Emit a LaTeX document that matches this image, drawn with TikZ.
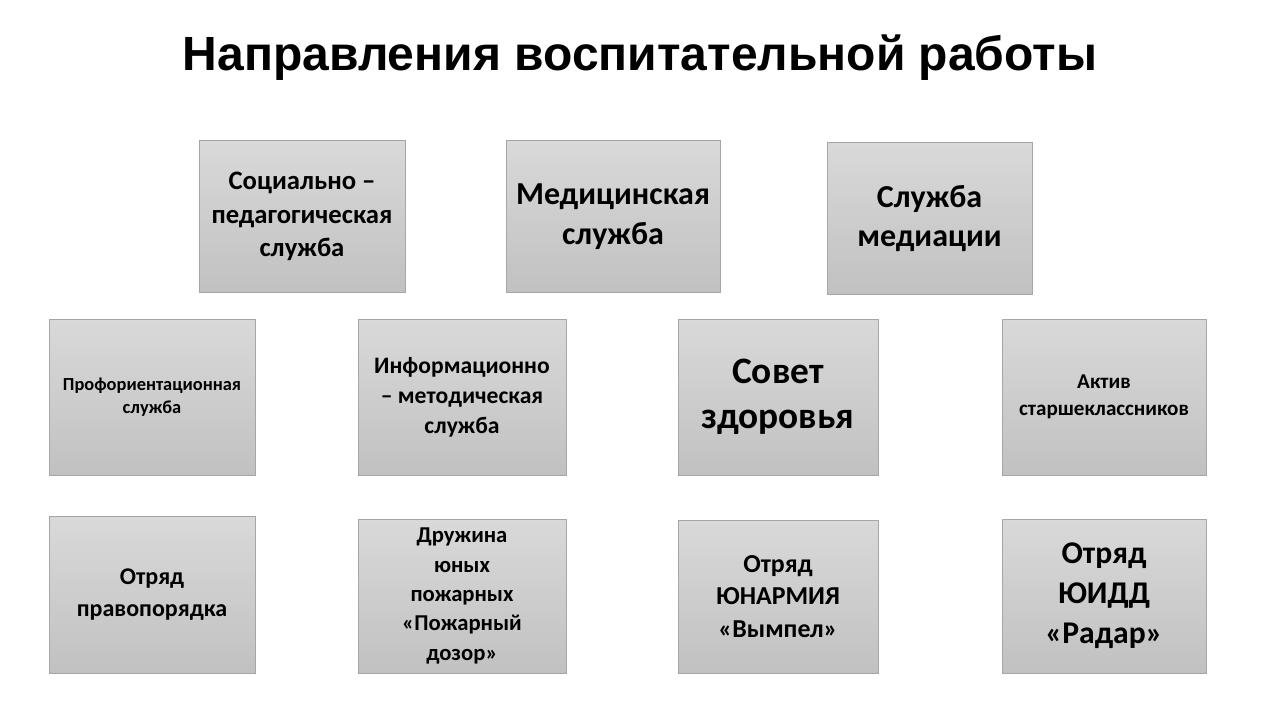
\documentclass[tikz,border=0pt]{standalone}
\usepackage{fontspec}
\setmainfont{Carlito}
\newfontfamily\titlefont{Liberation Sans}
\definecolor{boxtop}{RGB}{217,217,217}
\definecolor{boxbot}{RGB}{193,193,193}
\definecolor{boxline}{RGB}{166,166,166}
\tikzset{
  box/.style={draw=boxline, line width=0.75pt, top color=boxtop, bottom color=boxbot,
    align=center, inner sep=0pt, font=\bfseries},
}
\begin{document}
\begin{tikzpicture}[x=0.75pt, y=-0.75pt]
    \useasboundingbox[fill=white] (0,0) rectangle (1280,720); % page
    \node[font=\titlefont\bfseries\fontsize{36}{42}\selectfont] (title) at (640,58) {Направления воспитательной работы}; % title
    % first row
    \node[box, minimum width=154.5pt, minimum height=113.25pt, font=\bfseries\fontsize{20}{25}\selectfont] (social) at (302,216.5) {Социально –\\педагогическая\\служба};
    \node[box, minimum width=160.5pt, minimum height=113.25pt, font=\bfseries\fontsize{24}{29.5}\selectfont] (medic) at (613,216.5) {Медицинская\\служба};
    \node[box, minimum width=153.75pt, minimum height=113.25pt, font=\bfseries\fontsize{24}{29.5}\selectfont] (mediation) at (929.5,218.5) {Служба\\медиации};
    % second row
    \node[box, minimum width=154.5pt, minimum height=117pt, font=\bfseries\fontsize{13.8}{17.5}\selectfont] (career) at (152,397) {Профориентационная\\служба};
    \node[box, minimum width=156pt, minimum height=117pt, font=\bfseries\fontsize{17.7}{22.5}\selectfont] (inform) at (462,397) {Информационно\\– методическая\\служба};
    \node[box, minimum width=150pt, minimum height=117pt, font=\bfseries\fontsize{28}{33.5}\selectfont] (health) at (778,397) {Совет\\здоровья};
    \node[box, minimum width=153pt, minimum height=117pt, font=\bfseries\fontsize{15.8}{20.5}\selectfont] (activ) at (1104,397) {Актив\\старшеклассников};
    % third row
    \node[box, minimum width=154.5pt, minimum height=117.75pt, font=\bfseries\fontsize{18}{24}\selectfont] (order) at (152,594.5) {Отряд\\правопорядка};
    \node[box, minimum width=156pt, minimum height=115.5pt, font=\bfseries\fontsize{17}{22}\selectfont] (fire) at (462,596) {Дружина\\юных\\пожарных\\«Пожарный\\дозор»};
    \node[box, minimum width=150pt, minimum height=114.75pt, font=\bfseries\fontsize{19.4}{24.5}\selectfont] (army) at (778,596.5) {Отряд\\ЮНАРМИЯ\\«Вымпел»};
    \node[box, minimum width=153pt, minimum height=115.5pt, font=\bfseries\fontsize{23.7}{30}\selectfont] (radar) at (1104,596) {Отряд\\ЮИДД\\«Радар»};
\end{tikzpicture}
\end{document}
